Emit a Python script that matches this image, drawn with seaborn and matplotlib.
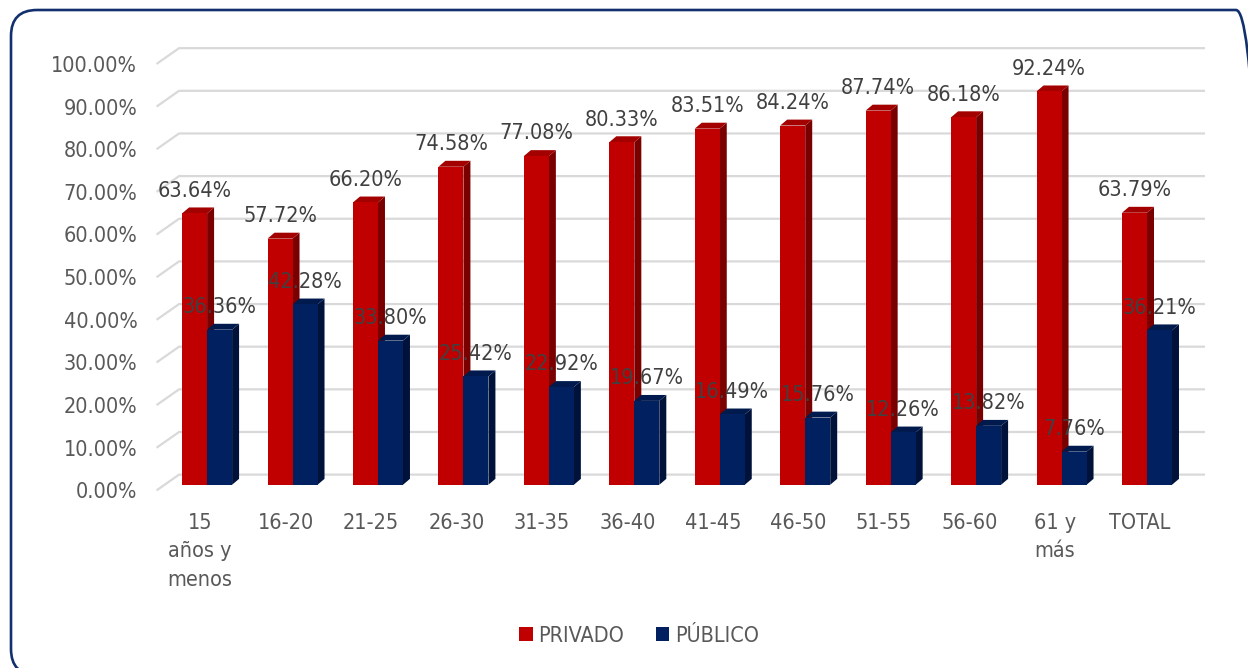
import numpy as np
import pandas as pd
import matplotlib
matplotlib.use("Agg")
import matplotlib.pyplot as plt
from matplotlib.patches import Polygon, Patch, FancyBboxPatch
from matplotlib.transforms import IdentityTransform
import seaborn as sns

# datos del gráfico
grupos = ["15\naños y\nmenos", "16-20", "21-25", "26-30", "31-35", "36-40",
          "41-45", "46-50", "51-55", "56-60", "61 y\nmás", "TOTAL"]
privado = [63.64, 57.72, 66.20, 74.58, 77.08, 80.33, 83.51, 84.24, 87.74, 86.18, 92.24, 63.79]
publico = [36.36, 42.28, 33.80, 25.42, 22.92, 19.67, 16.49, 15.76, 12.26, 13.82, 7.76, 36.21]
series = ["PRIVADO", "PÚBLICO"]
y_ticks = [0, 10, 20, 30, 40, 50, 60, 70, 80, 90, 100]

colores = {"PRIVADO": "#C00000", "PÚBLICO": "#002060"}
lado = {"PRIVADO": "#7A0000", "PÚBLICO": "#00123A"}
techo = {"PRIVADO": "#A30000", "PÚBLICO": "#001A4E"}

df = pd.DataFrame({
    "grupo": grupos * 2,
    "serie": ["PRIVADO"] * len(grupos) + ["PÚBLICO"] * len(grupos),
    "valor": privado + publico,
})

sns.set_style("white")
plt.rcParams["font.family"] = ["DejaVu Sans"]
plt.rcParams["font.stretch"] = "condensed"

fig = plt.figure(figsize=(12.48, 6.68), dpi=100)
ax = fig.add_axes([0.1317, 0.266, 0.8216, 0.6467])
ax.set_facecolor("none")

sns.barplot(data=df, x="grupo", y="valor", hue="serie", order=grupos,
            hue_order=series, palette=colores, width=0.585, saturation=1,
            legend=False, ax=ax)
ax.set_xlim(-0.5, 11.5)
ax.set_ylim(0, 100)

# profundidad 3D en unidades de datos
dx = 7 / 85.45
dy = 6 / 4.32

for k, (serie, cont) in enumerate(zip(series, ax.containers)):
    z = 2 + k
    for rect in cont:
        x0, w, h = rect.get_x(), rect.get_width(), rect.get_height()
        rect.set_zorder(z)
        rect.set_edgecolor("none")
        ax.add_patch(Polygon([(x0 + w, 0), (x0 + w + dx, dy), (x0 + w + dx, h + dy), (x0 + w, h)],
                             closed=True, facecolor=lado[serie], edgecolor="none", zorder=z - 0.1))
        ax.add_patch(Polygon([(x0, h), (x0 + dx, h + dy), (x0 + w + dx, h + dy), (x0 + w, h)],
                             closed=True, facecolor=techo[serie], edgecolor="none", zorder=z - 0.1))
        ax.annotate(f"{h:.2f}%", (x0 + w / 2, h), xytext=(0, 16.3), textcoords="offset points",
                    ha="center", va="center", fontsize=15.5, color="#404040", zorder=6)

# líneas de cuadrícula con pared trasera
x_front = (156.5 - 164.3) / 85.45 - 0.5
x_back = (179 - 164.3) / 85.45 - 0.5
x_end = (1205 - 164.3) / 85.45 - 0.5
for v in y_ticks:
    ax.plot([x_front, x_back, x_end], [v - 1.32, v + 2.38, v + 2.38], color="#D9D9D9",
            lw=1.6, zorder=0.5, clip_on=False, solid_capstyle="butt")

ax.set_yticks([v - 1.3 for v in y_ticks], labels=[f"{v:.2f}%" for v in y_ticks])
ax.set_xticks([i - 0.08 for i in range(len(grupos))], labels=grupos)
ax.tick_params(axis="y", length=0, pad=19.5, labelsize=15.5, labelcolor="#595959")
ax.tick_params(axis="x", length=0, pad=16, labelsize=15.5, labelcolor="#595959")
for lbl in ax.get_xticklabels():
    lbl.set_linespacing(1.55)
ax.set_xlabel("")
ax.set_ylabel("")
sns.despine(ax=ax, left=True, bottom=True)

handles = [Patch(facecolor=colores[s], edgecolor="none") for s in series]
fig.legend(handles, series, loc="center", bbox_to_anchor=(0.512, 0.048), ncol=2,
           frameon=False, fontsize=15.5, labelcolor="#595959", handlelength=0.62,
           handleheight=0.62, handletextpad=0.25, columnspacing=1.5)

# marco redondeado
marco = FancyBboxPatch((11, -7), 1251, 665, boxstyle="round,pad=0,rounding_size=26",
                       transform=IdentityTransform(), facecolor="none",
                       edgecolor="#13306E", lw=1.9)
fig.add_artist(marco)

fig.savefig("out.png", dpi=100)
